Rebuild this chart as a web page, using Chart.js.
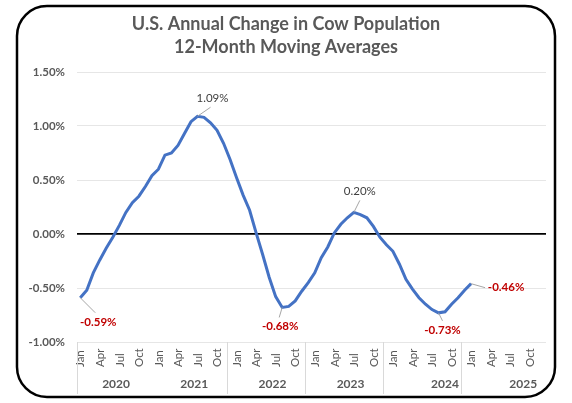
<!DOCTYPE html>
<html lang="en">
<head>
<meta charset="UTF-8">
<title>U.S. Annual Change in Cow Population</title>
<script src="https://cdn.jsdelivr.net/npm/chart.js"></script>
<style>
  html, body { margin: 0; padding: 0; background: #fff; }
  #wrap { width: 572px; height: 403px; }
</style>
</head>
<body>
<div id="wrap"><canvas id="cowChart" width="572" height="403"></canvas></div>
<script>
// categories
const monthNames = ["Jan","Feb","Mar","Apr","May","Jun","Jul","Aug","Sep","Oct","Nov","Dec"];
const years = ["2020","2021","2022","2023","2024","2025"];

// 12-month moving average, % change
const vals2020 = [-0.59, -0.52, -0.36, -0.24, -0.13, -0.03, 0.08, 0.20, 0.29, 0.35, 0.44, 0.54];
const vals2021 = [0.60, 0.73, 0.75, 0.82, 0.93, 1.04, 1.09, 1.08, 1.03, 0.96, 0.84, 0.69];
const vals2022 = [0.52, 0.36, 0.22, 0.01, -0.19, -0.40, -0.58, -0.68, -0.67, -0.62, -0.53, -0.45];
const vals2023 = [-0.36, -0.22, -0.12, 0.01, 0.09, 0.15, 0.20, 0.18, 0.15, 0.07, -0.03, -0.10];
const vals2024 = [-0.16, -0.28, -0.42, -0.51, -0.59, -0.65, -0.70, -0.73, -0.72, -0.65, -0.59, -0.52];
const vals2025 = [-0.46];

// y tick values
const yTicks = [-1.0, -0.5, 0.0, 0.5, 1.0, 1.5];

// month labels shown on the axis
const shownMonths = ["Jan", "Apr", "Jul", "Oct"];

// annotated points: index into the series
const callouts = [0, 18, 31, 42, 55, 60];

const labels = [];
years.forEach(y => monthNames.forEach(m => labels.push(m + " " + y)));
const values = [].concat(vals2020, vals2021, vals2022, vals2023, vals2024, vals2025);

const FONT = "Lato, 'Noto Sans', sans-serif";
const GREY = "#595959";
const RED = "#C00000";

// where each callout text sits relative to its point
const calloutStyle = {
    0:  { dx: 18, dy: 25, lx: 15, ly: 15, color: RED, bold: true },
    18: { dx: 15, dy: -18, lx: 13, ly: -9, color: "#404040", bold: false },
    31: { dx: -2, dy: 19, lx: -3, ly: 10, color: RED, bold: true },
    42: { dx: 6, dy: -21, lx: 6, ly: -12, color: "#404040", bold: false },
    55: { dx: 4, dy: 17, lx: 4, ly: 8, color: RED, bold: true },
    60: { dx: 35, dy: 4, lx: 14, ly: 4, color: RED, bold: true }
};

const framePlugin = {
    id: "frame",
    beforeDraw(chart) {
        const ctx = chart.ctx;
        ctx.save();
        ctx.fillStyle = "#fff";
        ctx.fillRect(0, 0, chart.width, chart.height);
        ctx.restore();
    },
    afterDraw(chart) {
        const ctx = chart.ctx;
        const x = chart.scales.x;
        const area = chart.chartArea;
        const w = x.getPixelForValue(1) - x.getPixelForValue(0);

        ctx.save();
        // outer rounded border
        ctx.strokeStyle = "#000";
        ctx.lineWidth = 2.5;
        ctx.beginPath();
        ctx.roundRect(17, 6, 538, 391, 30);
        ctx.stroke();

        // title
        ctx.fillStyle = GREY;
        ctx.textAlign = "center";
        ctx.textBaseline = "middle";
        ctx.font = "bold 18px " + FONT;
        ctx.fillText("U.S. Annual Change in Cow Population", 286, 24);
        ctx.fillText("12-Month Moving Averages", 286, 47);

        // month labels
        ctx.font = "11.5px " + FONT;
        ctx.textAlign = "left";
        labels.forEach((lab, i) => {
            const m = lab.split(" ")[0];
            if (!shownMonths.includes(m)) return;
            ctx.save();
            ctx.translate(x.getPixelForValue(i) + 0.5, 367);
            ctx.rotate(-Math.PI / 2);
            ctx.fillText(m, 0, 0);
            ctx.restore();
        });

        // year separators
        ctx.strokeStyle = "#d9d9d9";
        ctx.lineWidth = 1;
        const seps = [area.left];
        for (let k = 2; k < years.length; k++) {
            seps.push(x.getPixelForValue(12 * k - 1) - w / 2);
        }
        seps.forEach(sx => {
            ctx.beginPath();
            ctx.moveTo(Math.round(sx) + 0.5, area.bottom);
            ctx.lineTo(Math.round(sx) + 0.5, 394);
            ctx.stroke();
        });

        // year labels
        const yearPos = [5.5, 17.5, 29.5, 41.5, 56, 68];
        ctx.font = "bold 12px " + FONT;
        ctx.textAlign = "center";
        years.forEach((y, k) => {
            ctx.fillText(y, x.getPixelForValue(0) + yearPos[k] * w, 384);
        });

        // callouts
        const meta = chart.getDatasetMeta(0);
        callouts.forEach(i => {
            const p = meta.data[i];
            const s = calloutStyle[i];
            ctx.strokeStyle = "#a6a6a6";
            ctx.lineWidth = 1;
            ctx.beginPath();
            ctx.moveTo(p.x, p.y);
            ctx.lineTo(p.x + s.lx, p.y + s.ly);
            ctx.stroke();
            ctx.fillStyle = s.color;
            ctx.font = (s.bold ? "bold " : "") + "11.5px " + FONT;
            ctx.textAlign = "center";
            ctx.fillText(values[i].toFixed(2) + "%", p.x + s.dx, p.y + s.dy);
        });
        ctx.restore();
    }
};

new Chart(document.getElementById("cowChart"), {
    type: "line",
    data: {
        labels: labels,
        datasets: [{
            data: values,
            borderColor: "#4472C4",
            borderWidth: 3,
            pointRadius: 0,
            tension: 0,
            fill: false
        }]
    },
    options: {
        responsive: false,
        animation: false,
        layout: { padding: { left: 0, right: 26, top: 72, bottom: 61 } },
        plugins: {
            legend: { display: false },
            tooltip: { enabled: false }
        },
        scales: {
            x: {
                display: false,
                offset: true
            },
            y: {
                min: -1,
                max: 1.5,
                afterFit(scale) { scale.width = 77; },
                afterBuildTicks(scale) { scale.ticks = yTicks.map(v => ({ value: v })); },
                border: { display: false },
                grid: {
                    drawTicks: false,
                    color: c => c.tick && c.tick.value === 0 ? "#000" : "#e6e6e6",
                    lineWidth: c => c.tick && c.tick.value === 0 ? 1.8 : 1
                },
                ticks: {
                    padding: 12,
                    color: GREY,
                    font: { family: FONT, size: 11.5, weight: "bold" },
                    callback: v => v.toFixed(2) + "%"
                }
            }
        }
    },
    plugins: [framePlugin]
});
</script>
</body>
</html>
